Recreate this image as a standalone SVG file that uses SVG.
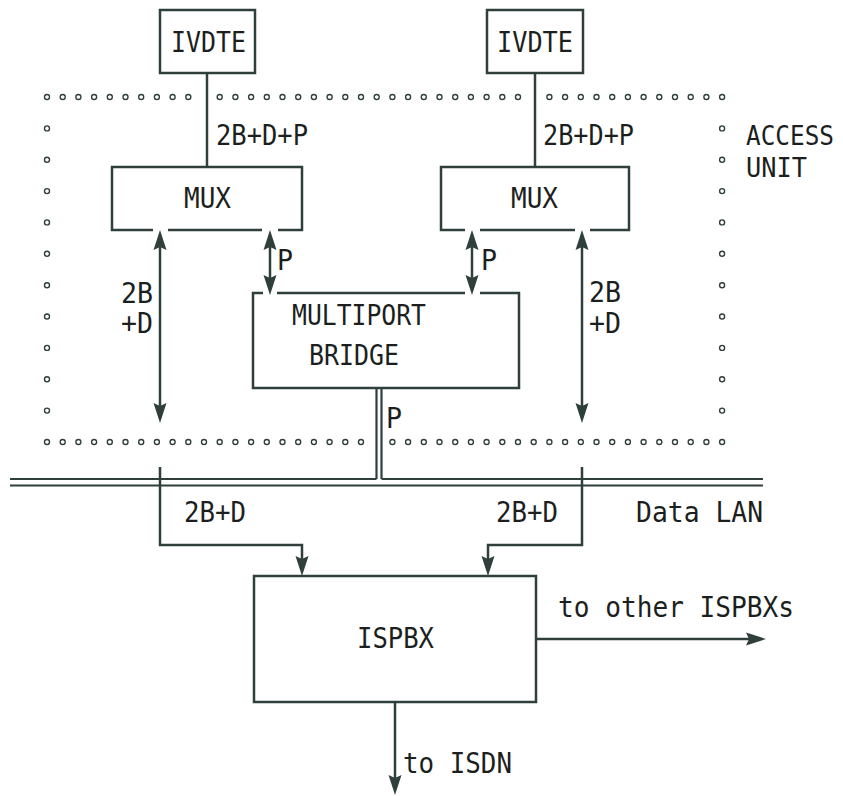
<svg xmlns="http://www.w3.org/2000/svg" xmlns:xlink="http://www.w3.org/1999/xlink" width="843" height="796" viewBox="0 0 843 796">
<style>
.box{fill:none;stroke:#2f3f3c;stroke-width:2.5}
.ln{fill:none;stroke:#2f3f3c;stroke-width:2.5}
.lan{fill:none;stroke:#2f3f3c;stroke-width:2.2}
.dot{fill:none;stroke:#2f3f3c;stroke-width:1.4}
text{font-family:"DejaVu Sans Mono","Liberation Mono",monospace;font-size:28px;fill:#1c1f1e}
.sm{font-size:26px}
</style>
<defs>
<marker id="ah" viewBox="-21 -7 22 14" refX="-10" refY="0" markerWidth="22" markerHeight="14" markerUnits="userSpaceOnUse" orient="auto-start-reverse">
<path d="M0,0 L-20,-6.5 L-17,0 L-20,6.5 Z" fill="#2f3f3c"/>
</marker>
<circle id="d" r="2.5" class="dot"/>
</defs>
<rect width="843" height="796" fill="#fff"/>

<g id="access-unit">
<g>
<use xlink:href="#d" x="47" y="97"/><use xlink:href="#d" x="62.7" y="97"/><use xlink:href="#d" x="78.4" y="97"/><use xlink:href="#d" x="94.1" y="97"/><use xlink:href="#d" x="109.8" y="97"/><use xlink:href="#d" x="125.5" y="97"/><use xlink:href="#d" x="141.2" y="97"/><use xlink:href="#d" x="156.9" y="97"/><use xlink:href="#d" x="172.6" y="97"/><use xlink:href="#d" x="188.3" y="97"/>
<use xlink:href="#d" x="219.7" y="97"/><use xlink:href="#d" x="235.4" y="97"/><use xlink:href="#d" x="251.1" y="97"/><use xlink:href="#d" x="266.8" y="97"/><use xlink:href="#d" x="282.5" y="97"/><use xlink:href="#d" x="298.2" y="97"/><use xlink:href="#d" x="313.9" y="97"/><use xlink:href="#d" x="329.6" y="97"/><use xlink:href="#d" x="345.3" y="97"/><use xlink:href="#d" x="361" y="97"/><use xlink:href="#d" x="376.7" y="97"/><use xlink:href="#d" x="392.4" y="97"/><use xlink:href="#d" x="408.1" y="97"/><use xlink:href="#d" x="423.8" y="97"/><use xlink:href="#d" x="439.5" y="97"/><use xlink:href="#d" x="455.2" y="97"/><use xlink:href="#d" x="470.9" y="97"/><use xlink:href="#d" x="486.6" y="97"/><use xlink:href="#d" x="502.3" y="97"/><use xlink:href="#d" x="518" y="97"/>
<use xlink:href="#d" x="549.4" y="97"/><use xlink:href="#d" x="565.1" y="97"/><use xlink:href="#d" x="580.8" y="97"/><use xlink:href="#d" x="596.5" y="97"/><use xlink:href="#d" x="612.2" y="97"/><use xlink:href="#d" x="627.9" y="97"/><use xlink:href="#d" x="643.6" y="97"/><use xlink:href="#d" x="659.3" y="97"/><use xlink:href="#d" x="675" y="97"/><use xlink:href="#d" x="690.7" y="97"/><use xlink:href="#d" x="706.4" y="97"/><use xlink:href="#d" x="722.1" y="97"/>
</g>
<g>
<use xlink:href="#d" x="47" y="128.4"/><use xlink:href="#d" x="47" y="159.7"/><use xlink:href="#d" x="47" y="191.1"/><use xlink:href="#d" x="47" y="222.4"/><use xlink:href="#d" x="47" y="253.8"/><use xlink:href="#d" x="47" y="285.2"/><use xlink:href="#d" x="47" y="316.5"/><use xlink:href="#d" x="47" y="347.9"/><use xlink:href="#d" x="47" y="379.2"/><use xlink:href="#d" x="47" y="410.6"/>
<use xlink:href="#d" x="722.1" y="128.4"/><use xlink:href="#d" x="722.1" y="159.7"/><use xlink:href="#d" x="722.1" y="191.1"/><use xlink:href="#d" x="722.1" y="222.4"/><use xlink:href="#d" x="722.1" y="253.8"/><use xlink:href="#d" x="722.1" y="285.2"/><use xlink:href="#d" x="722.1" y="316.5"/><use xlink:href="#d" x="722.1" y="347.9"/><use xlink:href="#d" x="722.1" y="379.2"/><use xlink:href="#d" x="722.1" y="410.6"/>
</g>
<g>
<use xlink:href="#d" x="47" y="442"/><use xlink:href="#d" x="62.7" y="442"/><use xlink:href="#d" x="78.4" y="442"/><use xlink:href="#d" x="94.1" y="442"/><use xlink:href="#d" x="109.8" y="442"/><use xlink:href="#d" x="125.5" y="442"/><use xlink:href="#d" x="141.2" y="442"/><use xlink:href="#d" x="156.9" y="442"/><use xlink:href="#d" x="172.6" y="442"/><use xlink:href="#d" x="188.3" y="442"/><use xlink:href="#d" x="204" y="442"/><use xlink:href="#d" x="219.7" y="442"/><use xlink:href="#d" x="235.4" y="442"/><use xlink:href="#d" x="251.1" y="442"/><use xlink:href="#d" x="266.8" y="442"/><use xlink:href="#d" x="282.5" y="442"/><use xlink:href="#d" x="298.2" y="442"/><use xlink:href="#d" x="313.9" y="442"/><use xlink:href="#d" x="329.6" y="442"/><use xlink:href="#d" x="345.3" y="442"/><use xlink:href="#d" x="361" y="442"/>
<use xlink:href="#d" x="392.4" y="442"/><use xlink:href="#d" x="408.1" y="442"/><use xlink:href="#d" x="423.8" y="442"/><use xlink:href="#d" x="439.5" y="442"/><use xlink:href="#d" x="455.2" y="442"/><use xlink:href="#d" x="470.9" y="442"/><use xlink:href="#d" x="486.6" y="442"/><use xlink:href="#d" x="502.3" y="442"/><use xlink:href="#d" x="518" y="442"/><use xlink:href="#d" x="533.7" y="442"/><use xlink:href="#d" x="549.4" y="442"/><use xlink:href="#d" x="565.1" y="442"/><use xlink:href="#d" x="580.8" y="442"/><use xlink:href="#d" x="596.5" y="442"/><use xlink:href="#d" x="612.2" y="442"/><use xlink:href="#d" x="627.9" y="442"/><use xlink:href="#d" x="643.6" y="442"/><use xlink:href="#d" x="659.3" y="442"/><use xlink:href="#d" x="675" y="442"/><use xlink:href="#d" x="690.7" y="442"/><use xlink:href="#d" x="706.4" y="442"/><use xlink:href="#d" x="722.1" y="442"/>
</g>
<text class="sm" x="746" y="145" textLength="88" lengthAdjust="spacingAndGlyphs">ACCESS</text>
<text class="sm" x="746" y="177" textLength="61" lengthAdjust="spacingAndGlyphs">UNIT</text>
</g>

<g id="ivdte-left">
<rect class="box" x="160" y="10" width="95" height="63"/>
<text x="171" y="52" textLength="75" lengthAdjust="spacingAndGlyphs">IVDTE</text>
</g>
<g id="ivdte-right">
<rect class="box" x="487" y="10" width="96" height="63"/>
<text x="497" y="52" textLength="76" lengthAdjust="spacingAndGlyphs">IVDTE</text>
</g>

<g id="mux-left">
<path class="box" d="M153,230 H112 V167 H302 V230 H278 M262,230 H168"/>
<text x="184" y="208" textLength="47" lengthAdjust="spacingAndGlyphs">MUX</text>
</g>
<g id="mux-right">
<path class="box" d="M465,230 H441 V167 H629 V230 H590 M575,230 H480"/>
<text x="511" y="208" textLength="47" lengthAdjust="spacingAndGlyphs">MUX</text>
</g>

<g id="bridge">
<path class="box" d="M263,293 H253 V388 H519 V293 H480 M465,293 H277"/>
<text x="292" y="325" textLength="134" lengthAdjust="spacingAndGlyphs">MULTIPORT</text>
<text x="309" y="365" textLength="90" lengthAdjust="spacingAndGlyphs">BRIDGE</text>
</g>

<g id="ispbx">
<rect class="box" x="254" y="576" width="282" height="126"/>
<text x="357" y="648" textLength="77" lengthAdjust="spacingAndGlyphs">ISPBX</text>
</g>

<g id="data-lan">
<path class="lan" d="M10,479 H376.5 M381.5,479 H763 M10,485.5 H763"/>
<text x="636" y="522" textLength="127" lengthAdjust="spacingAndGlyphs">Data LAN</text>
</g>

<g id="connectors">
<path class="ln" d="M207,73 V167"/>
<path class="ln" d="M535,73 V167"/>
<path class="ln" d="M160,240 V413" marker-start="url(#ah)" marker-end="url(#ah)"/>
<path class="ln" d="M270,240 V285" marker-start="url(#ah)" marker-end="url(#ah)"/>
<path class="ln" d="M472,240 V285" marker-start="url(#ah)" marker-end="url(#ah)"/>
<path class="ln" d="M582,240 V413" marker-start="url(#ah)" marker-end="url(#ah)"/>
<path class="lan" d="M376.5,388 V479 M381.5,388 V479"/>
<path class="ln" d="M160,467 V545 H302 V566" marker-end="url(#ah)"/>
<path class="ln" d="M582,467 V545 H488 V566" marker-end="url(#ah)"/>
<path class="ln" d="M536,639 H756" marker-end="url(#ah)"/>
<path class="ln" d="M395,702 V785" marker-end="url(#ah)"/>
<text x="216" y="145" textLength="92" lengthAdjust="spacingAndGlyphs">2B+D+P</text>
<text x="543" y="145" textLength="91" lengthAdjust="spacingAndGlyphs">2B+D+P</text>
<text x="277" y="270" textLength="16" lengthAdjust="spacingAndGlyphs">P</text>
<text x="481" y="270" textLength="16" lengthAdjust="spacingAndGlyphs">P</text>
<text x="121" y="303" textLength="32" lengthAdjust="spacingAndGlyphs">2B</text>
<text x="121" y="333" textLength="32" lengthAdjust="spacingAndGlyphs">+D</text>
<text x="589" y="302" textLength="32" lengthAdjust="spacingAndGlyphs">2B</text>
<text x="589" y="333" textLength="32" lengthAdjust="spacingAndGlyphs">+D</text>
<text x="386" y="428" textLength="16" lengthAdjust="spacingAndGlyphs">P</text>
<text x="184" y="522" textLength="62" lengthAdjust="spacingAndGlyphs">2B+D</text>
<text x="496" y="522" textLength="62" lengthAdjust="spacingAndGlyphs">2B+D</text>
<text x="558" y="617" textLength="236" lengthAdjust="spacingAndGlyphs">to other ISPBXs</text>
<text x="403" y="773" textLength="109" lengthAdjust="spacingAndGlyphs">to ISDN</text>
</g>
</svg>
